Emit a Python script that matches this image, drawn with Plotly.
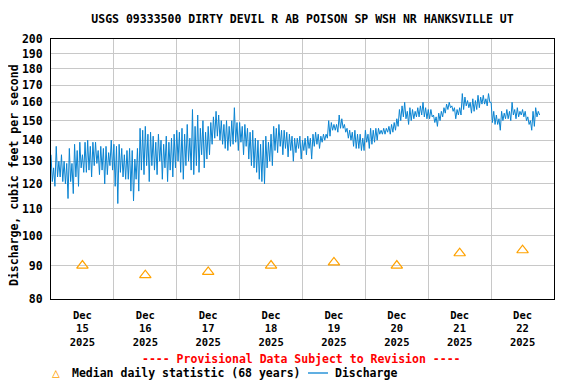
import math
import pandas as pd
import plotly.graph_objects as go

FONT = "DejaVu Sans Mono"

# ---------------- data ----------------
# Hourly discharge envelope (cfs): high and low reading within each hour, Dec 15 00:00 onward
discharge_hi = [
    # Dec 15
    133, 127, 137, 130, 133, 130, 129, 136, 129, 138, 135, 139, 133, 139, 140, 137, 139, 139, 135, 137, 136, 137, 134, 140,
    # Dec 16
    138, 137, 138, 136, 133, 135, 136, 135, 131, 136, 146, 145, 147, 143, 144, 142, 139, 143, 140, 138, 142, 139, 141, 143,
    # Dec 17
    145, 144, 146, 143, 148, 141, 156, 147, 153, 146, 150, 144, 147, 149, 152, 155, 153, 150, 148, 150, 147, 150, 157, 149,
    # Dec 18
    149, 147, 148, 146, 144, 145, 141, 140, 138, 140, 142, 139, 143, 147, 146, 148, 145, 145, 144, 143, 142, 141, 141, 142,
    # Dec 19
    140, 141, 142, 141, 143, 144, 143, 142, 143, 143, 150, 149, 148, 148, 153, 151, 148, 146, 145, 144, 145, 143, 143, 141,
    # Dec 20
    145, 143, 146, 145, 146, 146, 145, 146, 146, 147, 148, 149, 151, 156, 158, 160, 155, 157, 156, 155, 157, 158, 160, 157,
    # Dec 21
    156, 156, 153, 152, 154, 155, 157, 159, 160, 158, 157, 156, 157, 165, 163, 161, 160, 162, 161, 164, 163, 164, 162, 165,
    # Dec 22
    160, 155, 153, 151, 155, 154, 156, 155, 160, 156, 157, 155, 156, 155, 152, 150, 155, 157, 155,
]
discharge_lo = [
    # Dec 15
    121, 119, 123, 123, 121, 120, 114, 121, 116, 123, 119, 127, 125, 125, 126, 123, 128, 129, 124, 126, 120, 124, 128, 126,
    # Dec 16
    119, 112, 125, 123, 122, 122, 117, 113, 122, 117, 126, 124, 128, 121, 128, 126, 124, 130, 122, 127, 121, 126, 123, 127,
    # Dec 17
    130, 125, 122, 128, 130, 126, 124, 128, 125, 133, 127, 131, 133, 138, 141, 142, 140, 138, 136, 135, 137, 138, 139, 135,
    # Dec 18
    139, 133, 137, 131, 128, 127, 125, 122, 121, 120, 127, 130, 128, 135, 134, 137, 133, 136, 132, 135, 130, 134, 136, 131,
    # Dec 19
    135, 133, 136, 131, 137, 138, 136, 139, 140, 141, 142, 145, 145, 144, 146, 146, 144, 141, 140, 137, 136, 136, 135, 135,
    # Dec 20
    139, 136, 138, 139, 140, 143, 143, 143, 144, 143, 144, 145, 147, 150, 152, 151, 148, 150, 151, 152, 152, 153, 152, 151,
    # Dec 21
    151, 152, 149, 147, 150, 152, 154, 156, 157, 155, 151, 153, 153, 156, 158, 157, 154, 155, 156, 157, 159, 159, 158, 160,
    # Dec 22
    149, 148, 148, 145, 150, 151, 151, 150, 153, 151, 152, 153, 152, 150, 148, 145, 147, 152, 153,
]

day_labels = ["15", "16", "17", "18", "19", "20", "21", "22"]
median_values = [90, 87, 88, 90, 91, 90, 94, 95]
y_ticks = [80, 90, 100, 110, 120, 130, 140, 150, 160, 170, 180, 190, 200]

title_text = "USGS 09333500 DIRTY DEVIL R AB POISON SP WSH NR HANKSVILLE UT"
y_title = "Discharge, cubic feet per second"
provisional_text = "---- Provisional Data Subject to Revision ----"
median_name = "Median daily statistic (68 years)"
flow_name = "Discharge"

# ---------------- build series ----------------
start = pd.Timestamp("2025-12-15 00:00")
times, flow = [], []
for h, (hi, lo) in enumerate(zip(discharge_hi, discharge_lo)):
    t = start + pd.Timedelta(hours=h)
    times += [t, t + pd.Timedelta(minutes=30)]
    flow += [hi, lo]

noons = [start + pd.Timedelta(days=i, hours=12) for i in range(len(day_labels))]
midnights = [start + pd.Timedelta(days=i) for i in range(1, len(day_labels))]
tick_text = [f"Dec<br>{d}<br>2025" for d in day_labels]

BLUE = "#0A84D2"
ORANGE = "#FFA200"
GRID = "#C8C8C8"

fig = go.Figure()
fig.add_trace(go.Scatter(
    x=times, y=flow, mode="lines", name=flow_name,
    line=dict(color=BLUE, width=1.0), showlegend=False,
))
fig.add_trace(go.Scatter(
    x=noons, y=median_values, mode="markers", name=median_name,
    marker=dict(symbol="triangle-up-open", size=10, color=ORANGE, line=dict(width=1.2, color=ORANGE)),
    showlegend=False,
))

# page body has an 8px margin: the figure starts at (8, 8) in the window
OFF = 8
W, H = 576 - OFF, 384 - OFF
PLOT_L, PLOT_R, PLOT_T, PLOT_B = 51, 554, 39, 299   # window pixels
L = PLOT_L - OFF
T = PLOT_T - OFF
R = OFF + W - PLOT_R
B = OFF + H - PLOT_B
pw, ph = PLOT_R - PLOT_L, PLOT_B - PLOT_T

def px_x(x):
    return (x - PLOT_L) / pw

def px_y(y):
    return (PLOT_B - y) / ph

fig.update_layout(
    width=W, height=H,
    margin=dict(l=L, r=R, t=T, b=B, autoexpand=False),
    paper_bgcolor="white", plot_bgcolor="white",
    font=dict(family=FONT, size=11.5, color="black", weight="bold"),
    title=dict(text=title_text, x=0.5, xref="paper", xanchor="center",
               y=1 - (19 - OFF) / H, yanchor="middle",
               font=dict(family=FONT, size=11.5, color="black", weight="bold")),
    showlegend=False,
)

fig.update_xaxes(
    type="date",
    range=[start, start + pd.Timedelta(days=8)],
    tickvals=noons, ticktext=tick_text,
    showgrid=False, ticks="", ticklabelstandoff=6,
    tickfont=dict(family=FONT, size=10.5, color="black", weight="bold"),
    minor=dict(tickvals=midnights, showgrid=True, gridcolor=GRID, gridwidth=1, ticks=""),
    showline=True, mirror=True, linecolor="black", linewidth=1,
    zeroline=False, automargin=False,
)
fig.update_yaxes(
    type="log",
    range=[math.log10(80), math.log10(200)],
    tickvals=y_ticks, ticktext=[str(v) for v in y_ticks],
    showgrid=True, gridcolor=GRID, gridwidth=1, ticks="", ticklabelstandoff=5,
    tickfont=dict(family=FONT, size=11.5, color="black", weight="bold"),
    showline=True, mirror=True, linecolor="black", linewidth=1,
    zeroline=False, automargin=False,
)

# y-axis title
fig.add_annotation(
    text=y_title, xref="paper", yref="paper",
    x=px_x(14), y=px_y(175), xanchor="center", yanchor="middle", textangle=-90,
    showarrow=False, borderpad=0,
    font=dict(family=FONT, size=11.5, color="black", weight="bold"),
)
# provisional note
fig.add_annotation(
    text=provisional_text, xref="paper", yref="paper",
    x=px_x(301), y=px_y(359), xanchor="center", yanchor="middle", showarrow=False,
    font=dict(family=FONT, size=11.5, color="#FF0000", weight="bold"),
)
# legend row
fig.add_annotation(
    text="\u25b3", xref="paper", yref="paper",
    x=px_x(56), y=px_y(372), xanchor="center", yanchor="middle", showarrow=False,
    font=dict(family=FONT, size=13, color=ORANGE),
)
fig.add_annotation(
    text=median_name, xref="paper", yref="paper",
    x=px_x(70), y=px_y(373), xanchor="left", yanchor="middle", showarrow=False,
    font=dict(family=FONT, size=11.5, color="black", weight="bold"),
)
fig.add_shape(
    type="line", xref="paper", yref="paper",
    x0=px_x(308), x1=px_x(328), y0=px_y(373), y1=px_y(373),
    line=dict(color=BLUE, width=1.3),
)
fig.add_annotation(
    text=flow_name, xref="paper", yref="paper",
    x=px_x(333), y=px_y(373), xanchor="left", yanchor="middle", showarrow=False,
    font=dict(family=FONT, size=11.5, color="black", weight="bold"),
)

fig.write_html("out.html")
